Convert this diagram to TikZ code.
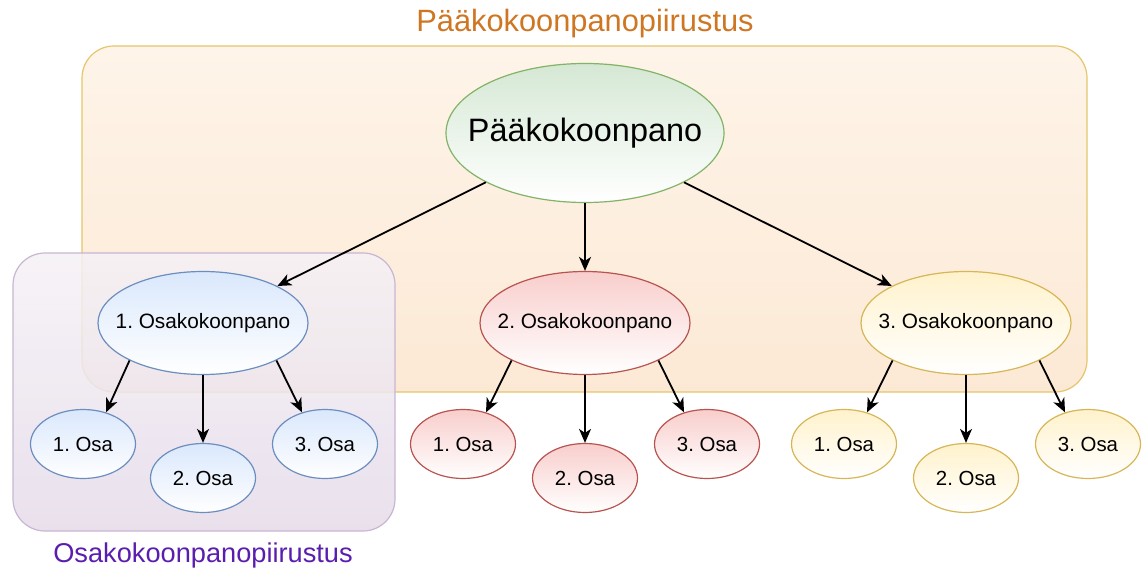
\documentclass[tikz,border=0pt]{standalone}
\usepackage{fontspec}
\setmainfont{Liberation Sans}
\usetikzlibrary{shapes.geometric,arrows.meta}
\definecolor{grfill}{HTML}{D5E8D4}\definecolor{grline}{HTML}{82B366}
\definecolor{blfill}{HTML}{DAE8FC}\definecolor{blline}{HTML}{6C8EBF}
\definecolor{rdfill}{HTML}{F8CECC}\definecolor{rdline}{HTML}{B85450}
\definecolor{ylfill}{HTML}{FFF2CC}\definecolor{ylline}{HTML}{D6B656}
\definecolor{ortop}{HTML}{FEF4E9}\definecolor{orbot}{HTML}{FCE9D5}\definecolor{orline}{HTML}{E5C66B}
\definecolor{putop}{HTML}{F5F1F6}\definecolor{pubot}{HTML}{E5DBE9}\definecolor{puline}{HTML}{C8B6D2}
\definecolor{ortext}{RGB}{207,118,35}\definecolor{putext}{RGB}{90,30,175}
\newcommand{\zw}[1]{\makebox[0pt]{#1}}
\frenchspacing
\begin{document}
\begin{tikzpicture}[x=0.5pt,y=-0.5pt,
  el/.style={ellipse,inner sep=0pt,line width=0.6pt},
  mainel/.style={el,draw=grline,top color=grfill,bottom color=white,minimum width=139pt,minimum height=69.5pt,font=\fontsize{16.2}{19}\selectfont},
  subel/.style={el,minimum width=105pt,minimum height=51.5pt,font=\fontsize{10.4}{12}\selectfont},
  partel/.style={el,minimum width=52.5pt,minimum height=34.5pt,font=\fontsize{10.2}{12}\selectfont},
  bl/.style={draw=blline,top color=blfill,bottom color=white},
  rd/.style={draw=rdline,top color=rdfill,bottom color=white},
  yl/.style={draw=ylline,top color=ylfill,bottom color=white},
  arr/.style={-{Stealth[length=7pt,width=6pt,inset=2pt]},line width=0.9pt,black},
  grpbox/.style={rounded corners=16pt,line width=0.6pt}
]
\useasboundingbox (0,0) rectangle (1143,572);
% group boxes
\draw[grpbox,draw=orline,top color=ortop,bottom color=orbot] (82,46) rectangle (1087,392);
\draw[grpbox,draw=puline,top color=putop,bottom color=pubot,fill opacity=0.85] (13,253) rectangle (395,531);
\node (t1) at (585,24) {\textcolor{ortext}{\fontsize{15.4}{18}\selectfont Pääkokoonpanopiirustus}};
\node (t2) at (203,555) {\textcolor{putext}{\fontsize{13.6}{16}\selectfont Osakokoonpanopiirustus}};
% nodes
\node[mainel] (main) at (585,133) {\zw{Pääkokoonpano}};
\node[subel,bl] (s1) at (203,323) {\zw{1. Osakokoonpano}};
\node[subel,rd] (s2) at (585,323) {\zw{2. Osakokoonpano}};
\node[subel,yl] (s3) at (966,323) {\zw{3. Osakokoonpano}};
\node[partel,bl] (p11) at (83,444) {\zw{1. Osa}};
\node[partel,bl] (p12) at (203,478) {\zw{2. Osa}};
\node[partel,bl] (p13) at (325,444) {\zw{3. Osa}};
\node[partel,rd] (p21) at (463,444) {\zw{1. Osa}};
\node[partel,rd] (p22) at (585,478) {\zw{2. Osa}};
\node[partel,rd] (p23) at (707,444) {\zw{3. Osa}};
\node[partel,yl] (p31) at (844,444) {\zw{1. Osa}};
\node[partel,yl] (p32) at (966,478) {\zw{2. Osa}};
\node[partel,yl] (p33) at (1088,444) {\zw{3. Osa}};
% connectors
\draw[arr] (main) -- (s1);
\draw[arr] (main) -- (s2);
\draw[arr] (main) -- (s3);
\foreach \s/\a/\b/\c in {s1/p11/p12/p13,s2/p21/p22/p23,s3/p31/p32/p33}{
  \draw[arr] (\s.207) -- (\a.54);
  \draw[arr] (\s.south) -- (\b.north);
  \draw[arr] (\s.333) -- (\c.126);
}
\end{tikzpicture}
\end{document}
